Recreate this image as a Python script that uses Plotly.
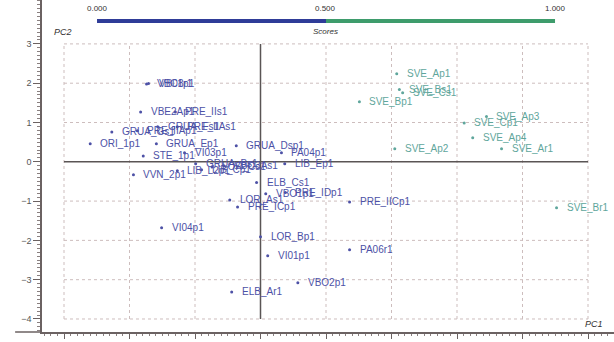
import plotly.graph_objects as go

# PCA score coordinates per sample
names = [
    "VBC1p1", "VB08r1", "VBE2Ap1", "PRE_IIs1", "GRUA_Gs1", "PRE_IIAp1",
    "GRUA_Fs1", "PRE_IIAs1", "ORI_1p1", "GRUA_Ep1", "GRUA_Dsp1", "PA04p1",
    "STE_1p1", "VI03p1", "LIB_Ep1", "VVN_2p1", "LIB_L2p1", "GRUA_Bs1",
    "LIB_Cp1", "LOR_Cs1", "VBO3As1", "ELB_Cs1", "LOR_As1", "VBO1p1",
    "PRE_IDp1", "PRE_ICp1", "PRE_IICp1", "VI04p1", "LOR_Bp1", "VI01p1",
    "PA06r1", "VBO2p1", "ELB_Ar1",
    "SVE_Ap1", "SVE_Bs1", "SVE_Cs1", "SVE_Bp1", "SVE_Ap3", "SVE_Cp1",
    "SVE_Ap4", "SVE_Ar1", "SVE_Ap2", "SVE_Br1",
]
pc1 = [
    -1.74, -1.71, -1.83, -1.30, -2.27, -1.88,
    -1.57, -1.27, -2.60, -1.59, -0.37, 0.32,
    -1.79, -1.16, 0.37, -1.94, -1.27, -0.99,
    -0.90, -0.74, -0.56, -0.06, -0.47, 0.08,
    0.38, -0.35, 1.36, -1.51, 0.00, 0.11,
    1.36, 0.57, -0.44,
    2.08, 2.12, 2.17, 1.51, 3.45, 3.11,
    3.24, 3.68, 2.05, 4.52,
]
pc2 = [
    1.98, 1.99, 1.27, 1.27, 0.76, 0.79,
    0.89, 0.89, 0.46, 0.46, 0.41, 0.23,
    0.15, 0.23, -0.05, -0.33, -0.23, -0.05,
    -0.20, -0.13, -0.10, -0.53, -0.97, -0.81,
    -0.78, -1.15, -1.02, -1.68, -1.91, -2.39,
    -2.24, -3.08, -3.31,
    2.24, 1.84, 1.76, 1.53, 1.15, 0.99,
    0.61, 0.33, 0.33, -1.17,
]
# cluster score (0 = first group, 1 = SVE group)
scores = [0.0] * 33 + [1.0] * 10

x_ticks = [-3, -2, -1, 0, 1, 2, 3, 4, 5]
y_ticks = [-4, -3, -2, -1, 0, 1, 2, 3]
score_ticks = ["0.000", "0.500", "1.000"]

BLUE = "#2f3c98"
GREEN = "#3e9c6c"
LBL_BLUE = "#4d51a6"
LBL_TEAL = "#5fa69c"
GRID = "#cdbdbd"
AXIS = "#6b6262"
FONT = "Liberation Sans, Arial, sans-serif"

pt_colors = [LBL_BLUE if s < 0.5 else LBL_TEAL for s in scores]

fig = go.Figure()
fig.add_trace(go.Scatter(
    x=pc1, y=pc2, mode="markers",
    marker=dict(size=3, color=pt_colors),
    hoverinfo="text", text=names, showlegend=False,
))

# sample labels to the right of each point
for n, xv, yv, c in zip(names, pc1, pc2, pt_colors):
    fig.add_annotation(x=xv, y=yv, text=n, showarrow=False, xanchor="left",
                       yanchor="middle", xshift=8,
                       font=dict(family=FONT, size=10, color=c))

shapes = []
xmin, xmax = x_ticks[0], x_ticks[-1]
ymin, ymax = y_ticks[0], y_ticks[-1]
# dotted grid
for xv in x_ticks:
    if xv == 0:
        continue
    shapes.append(dict(type="line", x0=xv, x1=xv, y0=ymin, y1=ymax,
                       line=dict(color=GRID, width=1, dash="dot"), layer="below"))
for yv in y_ticks:
    if yv == 0:
        continue
    shapes.append(dict(type="line", x0=xmin, x1=xmax, y0=yv, y1=yv,
                       line=dict(color=GRID, width=1, dash="dot"), layer="below"))
# origin cross
shapes.append(dict(type="line", x0=0, x1=0, y0=ymin, y1=ymax,
                   line=dict(color="#5a5555", width=1.5), layer="below"))
shapes.append(dict(type="line", x0=xmin, x1=xmax, y0=0, y1=0,
                   line=dict(color="#5a5555", width=1.5), layer="below"))
# x axis line continues past the y axis
shapes.append(dict(type="line", xref="paper", yref="paper", x0=-0.047, x1=0,
                   y0=0, y1=0, line=dict(color=AXIS, width=1.5)))
# score colour bar
bar_l, bar_m, bar_r, bar_y = 0.0962, 0.4965, 0.8969, 0.9367
shapes.append(dict(type="line", xref="paper", yref="paper", x0=bar_l, x1=bar_m,
                   y0=bar_y, y1=bar_y, line=dict(color=BLUE, width=4)))
shapes.append(dict(type="line", xref="paper", yref="paper", x0=bar_m, x1=bar_r,
                   y0=bar_y, y1=bar_y, line=dict(color=GREEN, width=4)))

for lbl, px in zip(score_ticks, [bar_l, bar_m, bar_r]):
    fig.add_annotation(xref="paper", yref="paper", x=px, y=0.973, text=lbl,
                       showarrow=False, xanchor="center", yanchor="middle",
                       font=dict(family=FONT, size=8, color="#333333"))
fig.add_annotation(xref="paper", yref="paper", x=0.4965, y=0.904, text="<i>Scores</i>",
                   showarrow=False, xanchor="center", yanchor="middle",
                   font=dict(family=FONT, size=8, color="#333333"))
fig.add_annotation(xref="paper", yref="paper", x=0.018, y=0.904, text="<i>PC2</i>",
                   showarrow=False, xanchor="left", yanchor="middle",
                   font=dict(family=FONT, size=9, color="#333333"))
fig.add_annotation(xref="paper", yref="paper", x=0.985, y=0.004, text="<i>PC1</i>",
                   showarrow=False, xanchor="right", yanchor="bottom",
                   font=dict(family=FONT, size=9, color="#333333"))

fig.update_layout(
    width=614, height=342,
    margin=dict(l=42, r=0, t=0, b=10),
    paper_bgcolor="white", plot_bgcolor="white",
    shapes=shapes,
    font=dict(family=FONT, size=9, color="#444444"),
    xaxis=dict(range=[-3.336, 5.397], tickvals=x_ticks,
               showgrid=False, zeroline=False, showline=True,
               linecolor=AXIS, linewidth=1.5, ticks="outside", ticklen=5,
               tickcolor=AXIS, tickfont=dict(size=9, color="#555555"),
               minor=dict(ticks="outside", ticklen=2, dtick=0.1, tick0=0,
                          tickcolor="#8a8080", showgrid=False),
               automargin=False, fixedrange=True),
    yaxis=dict(range=[-4.331, 4.117], tickvals=y_ticks,
               showgrid=False, zeroline=False, showline=True,
               linecolor=AXIS, linewidth=1.5, ticks="outside", ticklen=7,
               tickcolor=AXIS, tickfont=dict(size=9, color="#555555"),
               minor=dict(ticks="outside", ticklen=3, dtick=0.1, tick0=0,
                          tickcolor="#8a8080", showgrid=False),
               automargin=False, fixedrange=True),
)

fig.write_html("out.html", config=dict(displayModeBar=False))
